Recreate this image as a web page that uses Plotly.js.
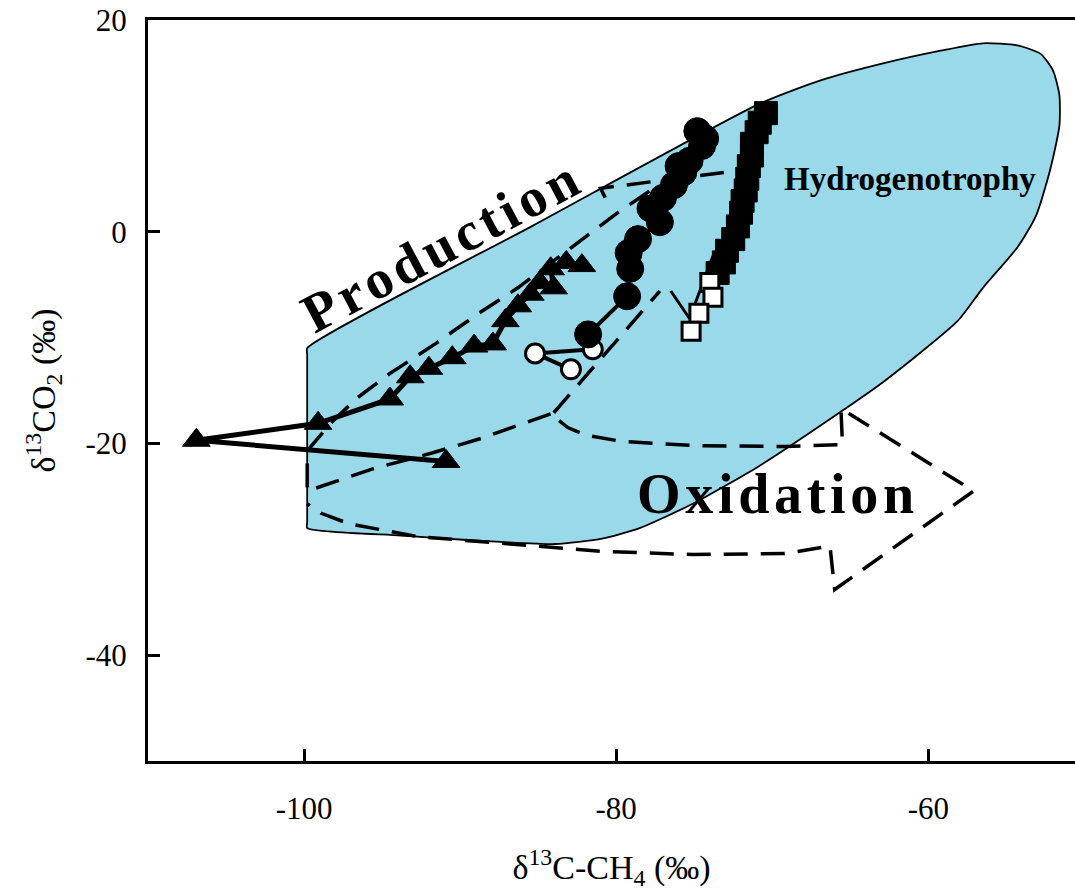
<!DOCTYPE html>
<html><head><meta charset="utf-8">
<script src="https://cdn.plot.ly/plotly-3.0.1.min.js"></script>
<style>html,body{margin:0;padding:0;background:#fff;} #chart{width:1075px;height:891px;}</style>
</head><body><div id="chart"></div>
<script>
// ---- Data series ----
const triX = [-90.9, -106.9, -99.1, -94.5, -93.2, -92.0, -90.5, -89.1, -87.9, -87.1, -86.3, -85.5, -84.9, -84.0, -84.2, -83.2, -82.2];
const triY = [-21.7, -19.7, -18.1, -15.8, -13.7, -12.9, -11.9, -10.8, -10.6, -8.4, -7.0, -5.9, -4.8, -5.3, -3.5, -2.9, -3.2];

const circX = [-81.8, -79.3, -79.1, -79.2, -78.6, -77.2, -77.8, -77.0, -76.3, -75.7, -76.0, -75.3, -74.5, -74.8, -74.3];
const circY = [-9.7, -6.1, -3.5, -2.0, -0.7, 0.9, 2.2, 3.2, 4.4, 5.6, 6.2, 6.7, 8.1, 9.5, 8.8];

const openCircX = [-81.5, -85.2, -82.9];
const openCircY = [-11.1, -11.5, -13.0];

const sqX = [-73.5, -73.1, -72.9, -72.5, -72.2, -72.0, -71.9, -71.7, -71.6, -71.5, -71.3, -71.3, -71.0, -70.8, -70.4];
const sqY = [-3.9, -2.9, -1.8, -0.7, 0.5, 1.8, 2.9, 3.9, 5.0, 6.2, 7.2, 8.3, 9.4, 10.3, 11.2];

const openSqX = [-74.0, -73.8, -74.7, -75.2];
const openSqY = [-4.8, -6.2, -7.7, -9.4];

// ---- Diagram outlines ----
const regionX = [-99.8, -99.8, -99.8, -99.8, -85.3, -70.8, -66.9, -62.9, -59.2, -56.5, -54.3, -52.8, -52.0, -51.6, -51.6, -52.2, -53.1, -54.3, -56.5, -58.1, -62.8, -65.4, -70.8, -75.1, -78.5, -80.9, -83.9, -87.4, -89.8, -93.8, -99.8];
const regionY = [-28.0, -27.4, -11.6, -11.0, 0.6, 12.1, 14.3, 15.9, 17.1, 17.8, 17.6, 16.8, 15.2, 12.9, 10.0, 5.8, 1.5, -1.5, -5.3, -8.4, -14.1, -16.8, -22.1, -25.7, -28.0, -29.0, -29.5, -29.3, -29.1, -28.7, -28.0];

const oxidX = [-99.8, -99.8, -95.6, -91.8, -88.6, -84.0, -83.7, -83.1, -82.0, -79.7, -75.1, -69.2, -65.5, -65.6, -57.1, -66.0, -66.3, -69.2, -75.1, -80.9, -86.8, -92.7, -97.1, -98.9, -99.8];
const oxidY = [-21.9, -24.5, -22.4, -20.9, -19.5, -17.1, -17.8, -18.5, -19.2, -19.8, -20.2, -20.3, -20.1, -16.7, -24.5, -33.8, -29.7, -30.4, -30.5, -30.2, -29.5, -28.8, -27.6, -26.6, -25.7];

const prodUpperX = [-99.8, -99.1, -98.3, -96.6, -94.5, -91.5, -88.9, -86.3, -83.8, -79.9, -77.5];
const prodUpperY = [-20.7, -19.5, -18.1, -15.7, -13.4, -10.5, -7.8, -5.3, -2.5, 1.8, 4.2];

const prodLowerX = [-84.0, -77.2];
const prodLowerY = [-17.1, -5.6];

const hydroArrowX = [-80.7, -81.0, -73.1];
const hydroArrowY = [3.2, 4.1, 5.6];

const barbX = [-76.5, -75.3, -73.8];
const barbY = [-5.6, -8.2, -2.3];

// ---- Axis ticks ----
const xTickVals = [-100, -80, -60];
const xTickText = ['-100', '-80', '-60'];
const yTickVals = [-40, -20, 0, 20];
const yTickText = ['-40', '-20', '0', '20'];

const FONT = 'Liberation Serif, Times New Roman, serif';
const DASH = '24px,13px';

const traces = [
  {x: regionX, y: regionY, mode: 'lines', fill: 'toself', fillcolor: '#99D9EA',
   line: {color: '#000', width: 1.8, shape: 'spline', smoothing: 0.6}, hoverinfo: 'skip'},
  {x: oxidX, y: oxidY, mode: 'lines', line: {color: '#000', width: 3.5, dash: DASH}, hoverinfo: 'skip'},
  {x: prodUpperX, y: prodUpperY, mode: 'lines', line: {color: '#000', width: 3.5, dash: DASH}, hoverinfo: 'skip'},
  {x: prodLowerX, y: prodLowerY, mode: 'lines', line: {color: '#000', width: 3.5, dash: DASH}, hoverinfo: 'skip'},
  {x: hydroArrowX, y: hydroArrowY, mode: 'lines', line: {color: '#000', width: 3.5, dash: DASH}, hoverinfo: 'skip'},
  {x: barbX, y: barbY, mode: 'lines', line: {color: '#000', width: 3}, hoverinfo: 'skip'},
  {x: triX, y: triY, mode: 'lines+markers', line: {color: '#000', width: 5},
   marker: {symbol: 'triangle-up', size: 24, color: '#000', line: {color: '#000', width: 1}}, hoverinfo: 'skip'},
  {x: openCircX, y: openCircY, mode: 'lines+markers', line: {color: '#000', width: 4},
   marker: {symbol: 'circle', size: 19, color: '#fff', line: {color: '#000', width: 3}}, hoverinfo: 'skip'},
  {x: circX, y: circY, mode: 'lines+markers', line: {color: '#000', width: 4},
   marker: {symbol: 'circle', size: 27, color: '#000', line: {color: '#000', width: 1}}, hoverinfo: 'skip'},
  {x: sqX, y: sqY, mode: 'lines+markers', line: {color: '#000', width: 3},
   marker: {symbol: 'square', size: 23, color: '#000', line: {color: '#000', width: 1}}, hoverinfo: 'skip'},
  {x: openSqX, y: openSqY, mode: 'markers',
   marker: {symbol: 'square', size: 18, color: '#fff', line: {color: '#000', width: 3}}, hoverinfo: 'skip'}
];

const layout = {
  width: 1075, height: 891,
  margin: {l: 148, r: 0, t: 20, b: 130, pad: 0},
  paper_bgcolor: '#fff', plot_bgcolor: '#fff',
  showlegend: false,
  font: {family: FONT, color: '#000', size: 31},
  xaxis: {
    range: [-110, -50.6], showgrid: false, zeroline: false,
    showline: true, linecolor: '#000', linewidth: 3, mirror: true,
    ticks: 'inside', ticklen: 12, tickwidth: 3, tickcolor: '#000',
    tickvals: xTickVals, ticktext: xTickText, ticklabelstandoff: 18,
    tickfont: {family: FONT, size: 31, color: '#000'},
    title: {text: 'δ<sup>13</sup>C-CH<sub>4</sub> (‰)', font: {family: FONT, size: 34, color: '#000'}, standoff: 31}
  },
  yaxis: {
    range: [-50, 20], showgrid: false, zeroline: false,
    showline: true, linecolor: '#000', linewidth: 3,
    ticks: 'inside', ticklen: 12, tickwidth: 3, tickcolor: '#000',
    tickvals: yTickVals, ticktext: yTickText, ticklabelstandoff: 12,
    tickfont: {family: FONT, size: 31, color: '#000'},
    title: {text: 'δ<sup>13</sup>CO<sub>2</sub> (‰)', font: {family: FONT, size: 34, color: '#000'}, standoff: 20}
  },
  annotations: [
    {x: -91.3, y: -1.4, xref: 'x', yref: 'y', showarrow: false, textangle: -28,
     text: '<b>P\u200Ar\u200Ao\u200Ad\u200Au\u200Ac\u200At\u200Ai\u200Ao\u200An</b>',
     font: {family: FONT, size: 55, color: '#000'}, xanchor: 'center', yanchor: 'middle'},
    {x: -69.8, y: -24.8, xref: 'x', yref: 'y', showarrow: false,
     text: '<b>O\u200Ax\u200Ai\u200Ad\u200Aa\u200At\u200Ai\u200Ao\u200An</b>',
     font: {family: FONT, size: 56, color: '#000'}, xanchor: 'center', yanchor: 'middle'},
    {x: -61.15, y: 5.0, xref: 'x', yref: 'y', showarrow: false,
     text: '<b>Hydrogenotrophy</b>',
     font: {family: FONT, size: 33, color: '#000'}, xanchor: 'center', yanchor: 'middle'}
  ]
};

Plotly.newPlot('chart', traces, layout, {displayModeBar: false, staticPlot: true});
</script></body></html>
